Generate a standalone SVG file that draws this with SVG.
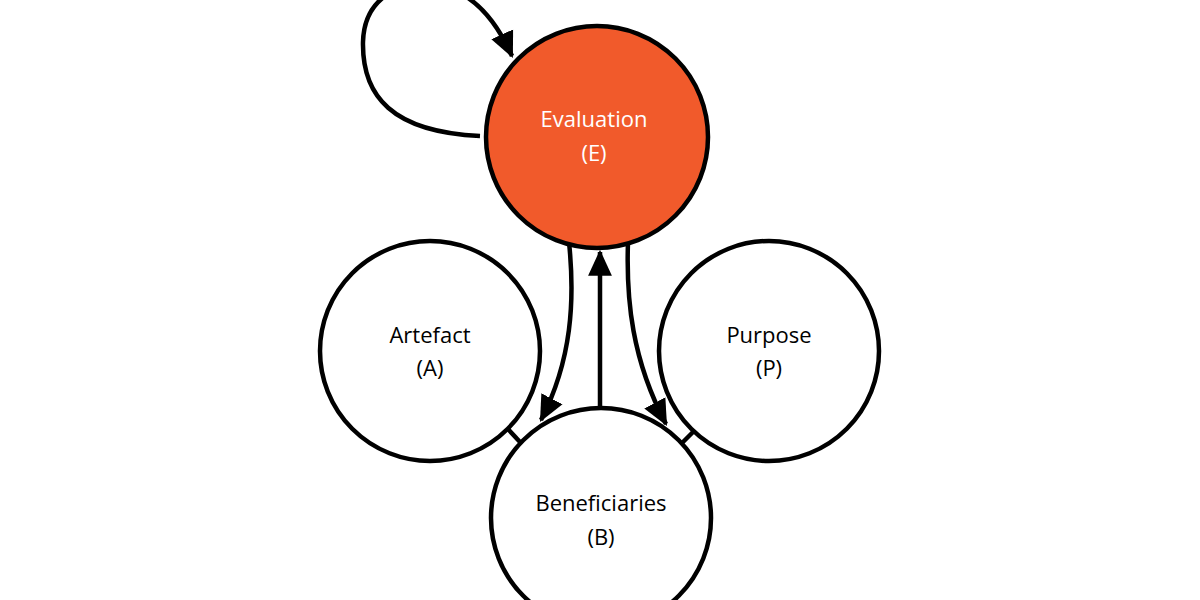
<svg xmlns="http://www.w3.org/2000/svg" width="1200" height="600" viewBox="0 0 1200 600">
<style>
.node{stroke:#000;stroke-width:4.5}
.w{fill:#fff}
.e{fill:#f15a2b}
.lbl{font-family:"Open Sans","Liberation Sans",sans-serif;font-size:22px;text-anchor:middle;fill:#000}
.lw{fill:#fff}
.c{fill:none;stroke:#000;stroke-width:4.5}
</style>
<defs>
<marker id="ah" markerUnits="userSpaceOnUse" markerWidth="26" markerHeight="26" viewBox="0 0 24 24" refX="22" refY="12" orient="auto">
<path d="M0,1 L24,12 L0,23 Z" fill="#000"/>
</marker>
</defs>
<g id="connectors">
<path class="c" d="M480 136 C 392 132 362 96 363 42 C 364 0 398 -22 440 -14 C 470 -8 494 16 512 56" marker-end="url(#ah)"/>
<path class="c" d="M569 242 C 575 300 572 360 541 420" marker-end="url(#ah)"/>
<path class="c" d="M628 242 C 626 300 632 360 666 424" marker-end="url(#ah)"/>
<path class="c" d="M600 408 L600 252" marker-end="url(#ah)"/>
<line class="c" x1="507" y1="428" x2="520" y2="442"/>
<line class="c" x1="693" y1="432" x2="680" y2="445"/>
</g>
<g id="node-A">
<circle class="node w" cx="430" cy="351" r="110"/>
<text class="lbl" x="430" y="343">Artefact</text>
<text class="lbl" x="430" y="376">(A)</text>
</g>
<g id="node-P">
<circle class="node w" cx="769" cy="351" r="110"/>
<text class="lbl" x="769" y="343">Purpose</text>
<text class="lbl" x="769" y="376">(P)</text>
</g>
<g id="node-B">
<circle class="node w" cx="601" cy="518" r="110"/>
<text class="lbl" x="601" y="511">Beneficiaries</text>
<text class="lbl" x="601" y="545">(B)</text>
</g>
<g id="node-E">
<circle class="node e" cx="597" cy="137" r="111"/>
<text class="lbl lw" x="594" y="127">Evaluation</text>
<text class="lbl lw" x="594" y="161">(E)</text>
</g>
</svg>
